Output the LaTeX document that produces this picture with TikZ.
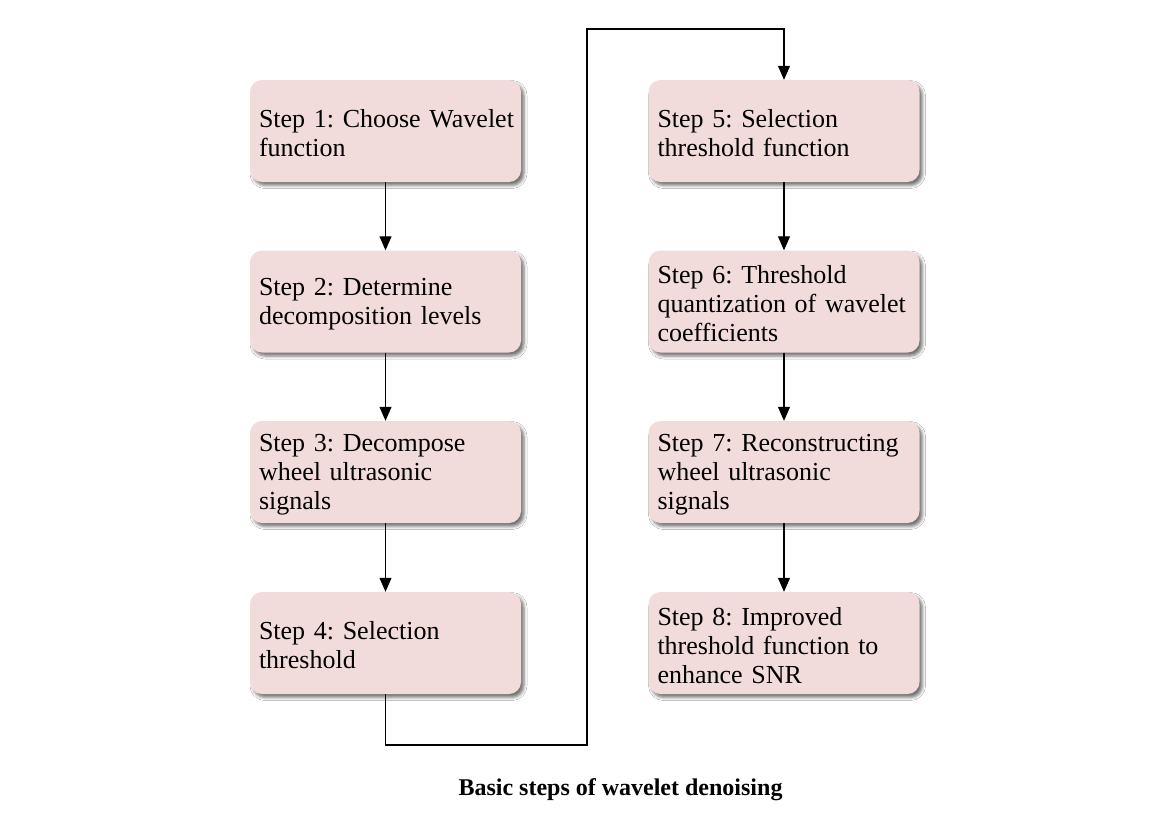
\documentclass[tikz,border=0pt]{standalone}
\usepackage{fontspec}
\setmainfont{Liberation Serif}
\frenchspacing
\usetikzlibrary{arrows.meta,shadows.blur}
\definecolor{boxpink}{RGB}{242,220,219}
\begin{document}
\begin{tikzpicture}[x=1pt,y=-1pt,
  stepbox/.style={fill=boxpink, rounded corners=12pt, minimum width=271pt, minimum height=102pt,
    text width=253pt, inner xsep=9pt, inner ysep=0pt, align=left,
    font=\fontsize{26}{29}\selectfont\frenchspacing,
    execute at begin node={\rule{0pt}{23pt}},
    blur shadow={shadow xshift=3pt, shadow yshift=-3.5pt, shadow blur radius=3pt, shadow opacity=55}},
  conn/.style={line width=1.1pt, -{Triangle[width=12pt,length=14pt]}}]
\useasboundingbox (0,0) rectangle (1163,827);
\fill[white] (0,0) rectangle (1163,827);
\node[stepbox] (s1) at (385.5,131) {\mbox{Step 1: Choose Wavelet}\\function};
\node[stepbox] (s2) at (385.5,301.5) {Step 2: Determine\\decomposition levels};
\node[stepbox] (s3) at (385.5,472) {Step 3: Decompose\\wheel ultrasonic\\signals};
\node[stepbox] (s4) at (385.5,643) {Step 4: Selection\\threshold};
\node[stepbox] (s5) at (784,131) {Step 5: Selection\\threshold function};
\node[stepbox] (s6) at (784,301.5) {Step 6: Threshold\\quantization of wavelet\\coefficients};
\node[stepbox] (s7) at (784,472) {Step 7: Reconstructing\\wheel ultrasonic\\signals};
\node[stepbox] (s8) at (784,643) {Step 8: Improved\\threshold function to\\enhance SNR};
\draw[conn] (s1) -- (s2);
\draw[conn] (s2) -- (s3);
\draw[conn] (s3) -- (s4);
\draw[conn] (s5) -- (s6);
\draw[conn] (s6) -- (s7);
\draw[conn] (s7) -- (s8);
\coordinate (t1) at (587,745);
\coordinate (t2) at (587,29);
\draw[conn] (s4.south) |- (t1) -- (t2) -| (s5.north);
\node[anchor=base, inner sep=0pt, font=\bfseries\fontsize{24}{28}\selectfont] (cap) at (620.5,795) {Basic steps of wavelet denoising};
\end{tikzpicture}
\end{document}
